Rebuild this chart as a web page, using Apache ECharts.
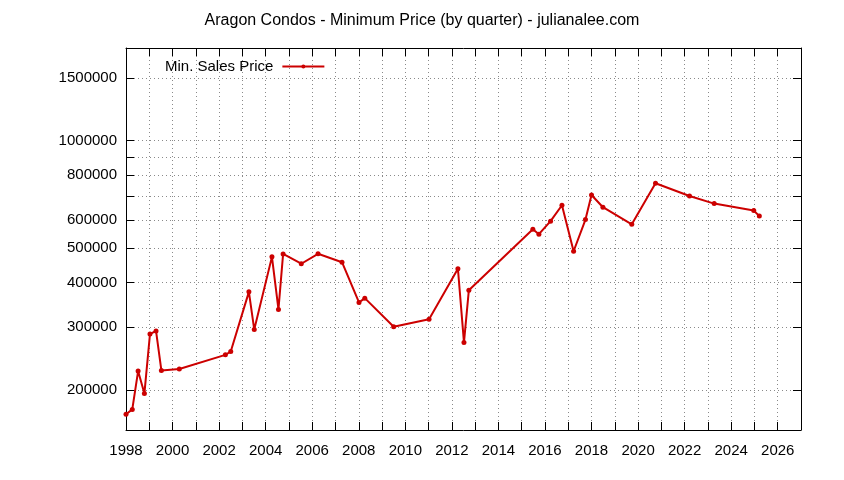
<!DOCTYPE html>
<html>
<head>
<meta charset="utf-8">
<script src="https://cdn.jsdelivr.net/npm/echarts@6/dist/echarts.min.js"></script>
<style>html,body{margin:0;padding:0;background:#fff}#c{width:844px;height:480px}</style>
</head>
<body>
<div id="c"></div>
<script>
const titleText = 'Aragon Condos - Minimum Price (by quarter) - julianalee.com';
const seriesName = 'Min. Sales Price';
const years = [1998.0, 1998.27, 1998.52, 1998.79, 1999.03, 1999.29, 1999.52, 2000.29, 2002.27, 2002.5,
  2003.28, 2003.51, 2004.27, 2004.55, 2004.75, 2005.53, 2006.25, 2007.28, 2008.01, 2008.26,
  2009.5, 2011.02, 2012.26, 2012.52, 2012.73, 2015.48, 2015.74, 2016.24, 2016.73, 2017.23,
  2017.74, 2018.0, 2018.49, 2019.73, 2020.75, 2022.21, 2023.27, 2024.97, 2025.21];
const prices = [171000, 176500, 226000, 195500, 287000, 293000, 227000, 229000, 251000, 256500,
  377000, 295500, 472500, 336500, 481500, 452000, 482000, 456500, 352000, 362000,
  301000, 316000, 437500, 272000, 381000, 565000, 547000, 595000, 659500, 490000,
  601000, 704500, 651000, 583000, 760000, 700000, 666500, 637000, 615000];
const xLabelValues = [1998, 2000, 2002, 2004, 2006, 2008, 2010, 2012, 2014, 2016, 2018, 2020, 2022, 2024, 2026];
const yLabelValues = [200000, 300000, 400000, 500000, 600000, 800000, 1000000, 1500000];
const yTickValues = [200000, 300000, 400000, 500000, 600000, 700000, 800000, 900000, 1000000, 1500000];

const FONT = 'Liberation Sans';
const plain = v => String(Math.round(v));
const gridLine = { show: true, lineStyle: { color: '#8a8a8a', width: 1, type: [1, 3] } };
const chart = echarts.init(document.getElementById('c'));
chart.setOption({
  animation: false,
  backgroundColor: '#fff',
  textStyle: { fontFamily: FONT },
  title: {
    text: titleText, left: 'center', top: 8,
    textStyle: { fontFamily: FONT, fontSize: 16, fontWeight: 'normal', color: '#000' }
  },
  legend: {
    left: 160, top: 54, align: 'right', itemWidth: 42, itemHeight: 5,
    data: [seriesName],
    textStyle: { fontFamily: FONT, fontSize: 15, color: '#000', padding: [0, 4, 0, 0] }
  },
  grid: { left: 126, right: 43, top: 48, bottom: 50, show: false },
  xAxis: [{
    type: 'value', min: 1998, max: 2027, interval: 1,
    axisLine: { lineStyle: { color: '#000', width: 1 } },
    axisTick: { inside: true, length: 8, lineStyle: { color: '#000' } },
    axisLabel: { margin: 13, fontSize: 15, color: '#000', fontFamily: FONT,
      customValues: xLabelValues, formatter: plain },
    splitLine: gridLine
  }, {
    type: 'value', position: 'top', min: 1998, max: 2027, interval: 1,
    axisLine: { show: true, lineStyle: { color: '#000', width: 1 } },
    axisTick: { show: true, inside: true, length: 8, lineStyle: { color: '#000' } },
    axisLabel: { show: false }, splitLine: { show: false }
  }],
  yAxis: [{
    type: 'log', min: 154500, max: 1820000,
    axisLine: { show: true, lineStyle: { color: '#000', width: 1 } },
    axisTick: { show: true, inside: true, length: 8, lineStyle: { color: '#000' }, customValues: yTickValues },
    axisLabel: { margin: 9, fontSize: 15, color: '#000', fontFamily: FONT,
      customValues: yLabelValues, formatter: plain },
    splitLine: gridLine
  }, {
    type: 'log', position: 'right', min: 154500, max: 1820000,
    axisLine: { show: true, lineStyle: { color: '#000', width: 1 } },
    axisTick: { show: true, inside: true, length: 8, lineStyle: { color: '#000' }, customValues: yTickValues },
    axisLabel: { show: false }, splitLine: { show: false }
  }],
  series: [{
    name: seriesName, type: 'line',
    data: years.map((y, i) => [y, prices[i]]),
    symbol: 'circle', symbolSize: 5, showSymbol: true,
    itemStyle: { color: '#cc0000' },
    lineStyle: { color: '#cc0000', width: 2 }
  }]
});
</script>
</body>
</html>
